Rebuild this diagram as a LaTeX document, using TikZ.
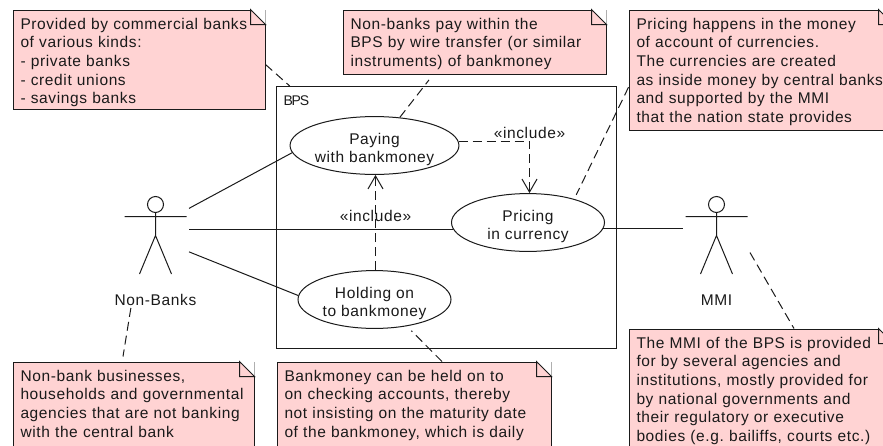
\documentclass[tikz,border=0pt]{standalone}
\usepackage{fontspec}
\setmainfont{Liberation Sans}[LetterSpace=4]
\usetikzlibrary{shapes.geometric,positioning,arrows.meta}
\definecolor{notered}{HTML}{FFD3D3}
\definecolor{lineblack}{HTML}{1A1A1A}
\newcommand{\firstline}{\rule{0pt}{17pt}}
\newcommand{\lastline}{\rule[-6pt]{0pt}{6pt}}
\newcommand{\caseline}{\rule{0pt}{19pt}}

\begin{document}
\begin{tikzpicture}[x=1pt,y=-1pt,line width=1pt,color=lineblack,
every node/.style = {font=\fontsize{15.5}{18.7}\selectfont,text=lineblack},
notebox/.style = {draw, fill=notered, anchor=north west, align=left, inner xsep=7.5pt, inner ysep=2pt},
usecase/.style = {draw, fill=white, shape=ellipse, minimum width=153, minimum height=53, inner sep=0pt, align=center},
actorbox/.style = {minimum width=66, minimum height=78, inner sep=0pt},
actorlabel/.style = {minimum height=15, inner sep=0pt},
notelink/.style = {dash pattern=on 9pt off 5pt},
includelink/.style = {dash pattern=on 9pt off 5pt, -{Straight Barb[length=13pt,width=15pt,line width=1pt]}}]
\path[use as bounding box,clip] (0,0) rectangle (883,445);

\node[draw, minimum width=340, minimum height=262, inner sep=0pt] (bps) at (446.5,217.5) {};
\node[anchor=base west, inner sep=0pt, font=\fontsize{14}{16}\selectfont\addfontfeature{LetterSpace=-8}] (bpslabel) at (283,105) {BPS};

\node[usecase] (paying) at (374.5,145.5) {\caseline Paying\\with bankmoney};
\node[usecase] (pricing) at (528,222.5) {\caseline Pricing\\in currency};
\node[usecase] (holding) at (374.5,299.5) {\caseline Holding on\\to bankmoney};

\node[actorbox] (nonbanks) at (155.5,235.5) {};
\node[actorbox] (mmi) at (716.5,235.5) {};
\node[actorlabel,below=17pt of nonbanks] (nonbankslabel) {Non-Banks};
\node[actorlabel,below=17pt of mmi] (mmilabel) {MMI};
\foreach \a in {nonbanks,mmi}
  \draw[shift={(\a.center)}] (0,-31) circle[radius=8] (0,-23) -- (0,0) (-31,-19) -- (31,-19)
    (-16,38.5) -- (0,0) -- (16,38.5);

\node[notebox,text width=237pt] (note1) at (12.5,9.5) {\firstline Provided by commercial banks\\of various kinds:\\- private banks\\- credit unions\\- savings banks};
\node[notebox,text width=248pt] (note2) at (342.5,9.5) {\firstline Non-banks pay within the\\BPS by wire transfer (or similar\\instruments) of bankmoney\lastline};
\node[notebox,text width=249pt] (note3) at (628.5,9.5) {\firstline Pricing happens in the money\\of account of currencies.\\The currencies are created\\\mbox{as inside money by central banks}\\and supported by the MMI\\that the nation state provides\lastline};
\node[notebox,text width=249pt] (note4) at (628.5,328.5) {\firstline The MMI of the BPS is provided\\for by several agencies and\\institutions, mostly provided for\\by national governments and\\their regulatory or executive\\bodies (e.g.\ bailiffs, courts etc.)\\~};
\node[notebox,text width=226pt] (note5) at (12.5,361.5) {\firstline Non-bank businesses,\\households and governmental\\agencies that are not banking\\with the central bank\\~};
\node[notebox,text width=259pt] (note6) at (276.5,361.5) {\firstline Bankmoney can be held on to\\on checking accounts, thereby\\not insisting on the maturity date\\of the bankmoney, which is daily\\~};
\foreach \n in {note1,note2,note3,note4,note5,note6} {
  \fill[white] ([xshift=-15]\n.north east) -- (\n.north east) -- ([yshift=-15]\n.north east) -- cycle;
  \draw ([yshift=-15]\n.north east) -- ([xshift=-15]\n.north east) |- cycle;
}

\draw (nonbanks.39) -- (paying.185);
\draw (nonbanks.10.3) -- (nonbanks.10.3 -| pricing.185);
\draw (nonbanks.-26) -- (holding.177);
\draw (mmi.169.7 -| pricing.-5) -- (mmi.169.7);

\draw[includelink] (paying.3) -| node[above,inner sep=2pt] (includeright) {«include»} ([xshift=1.5]pricing.north);
\draw[includelink] ([xshift=1]holding.north) -- node[pos=.57,inner sep=0pt] (includeleft) {«include»} ([xshift=1]paying.south);

\draw[notelink] ([yshift=-5]note1.east) -- (bps.140);
\draw[notelink] (paying.48) -- ([shift={(-45.5,5)}]note2.south);
\draw[notelink] ([yshift=-17]note3.west) -- ([shift={(2,-4)}]pricing.27);
\draw[notelink] (mmi.-27) -- ([xshift=33]note4.north);
\draw[notelink] (nonbankslabel.198) -- ([shift={(-10.5,-5)}]note5.north);
\draw[notelink] ([xshift=28]note6.north) -- ([shift={(2,5)}]holding.-37);
\end{tikzpicture}
\end{document}
